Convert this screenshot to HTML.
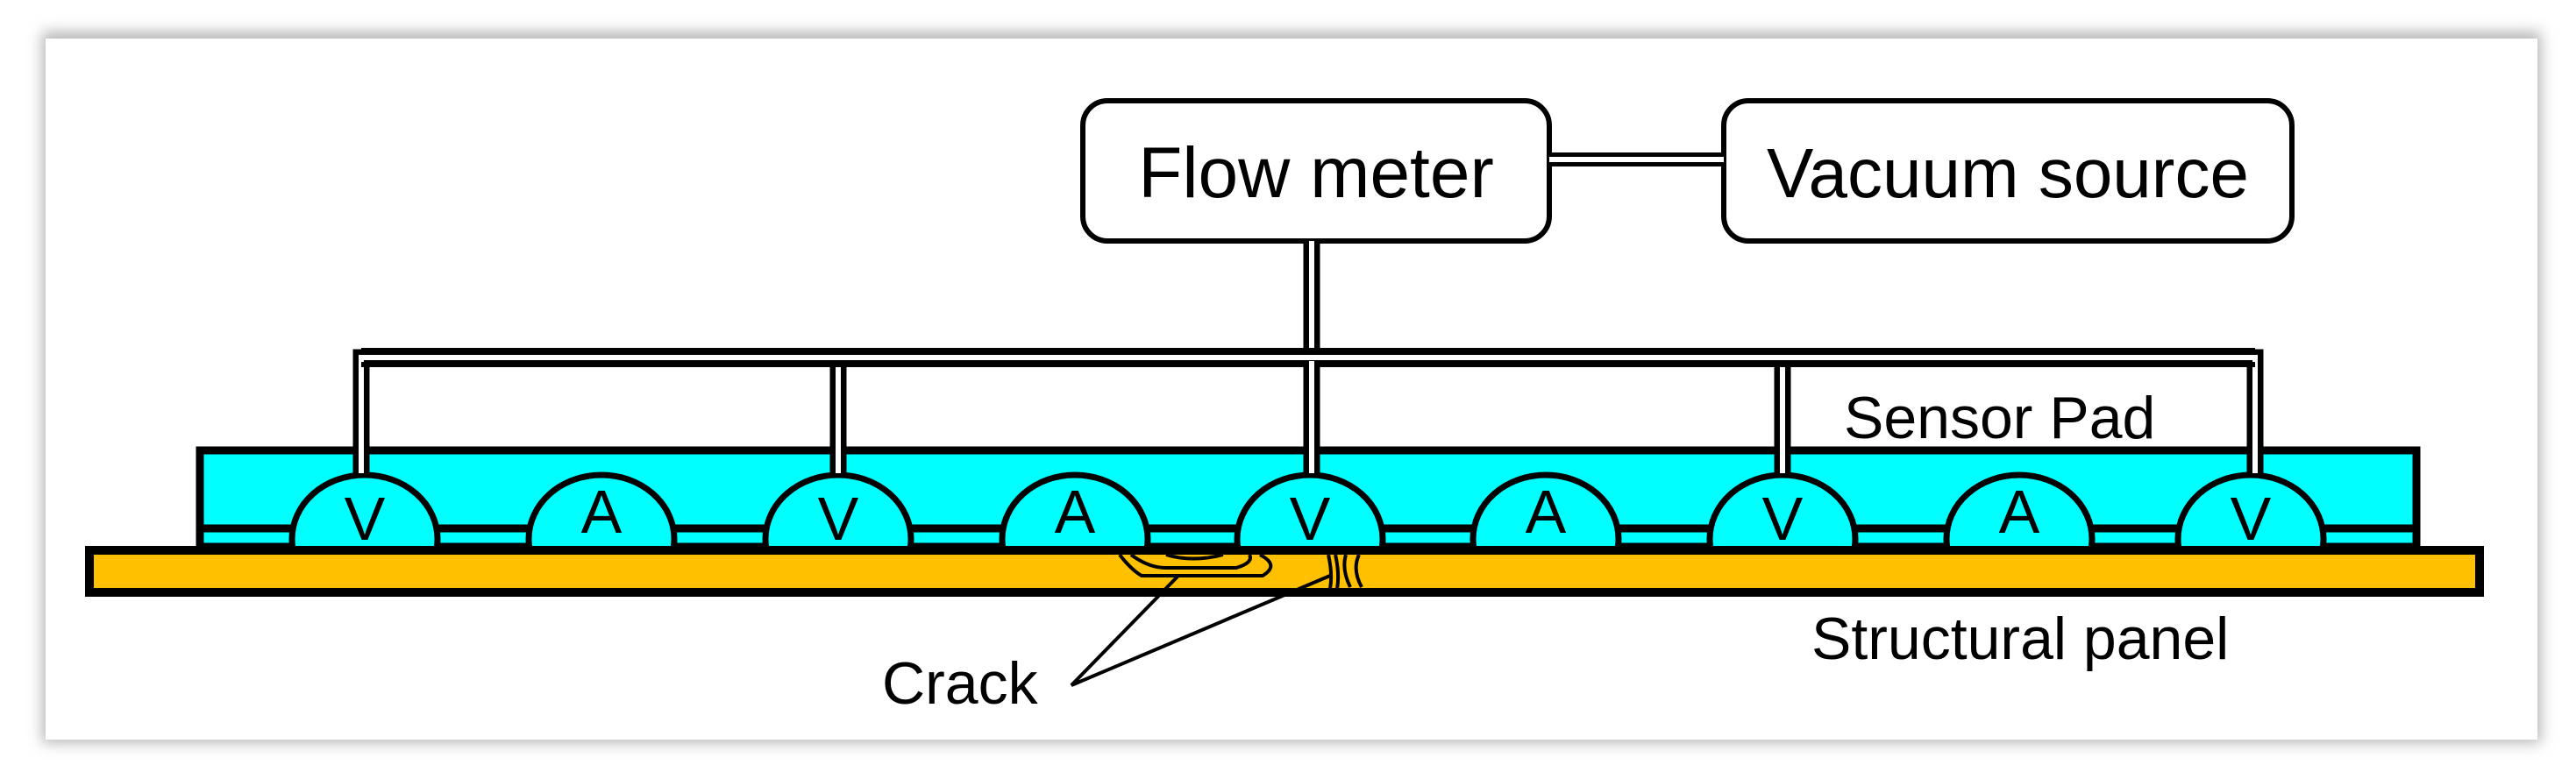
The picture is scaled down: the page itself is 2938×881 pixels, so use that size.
<!DOCTYPE html>
<html><head><meta charset="utf-8"><style>
html,body{margin:0;padding:0;background:#fff;}
svg{display:block;}
text{font-family:"Liberation Sans",sans-serif;fill:#000;}
</style></head><body>
<svg width="2938" height="881" viewBox="0 0 2938 881" xmlns="http://www.w3.org/2000/svg">
<defs>
<filter id="sh" x="-5%" y="-10%" width="110%" height="120%"><feGaussianBlur stdDeviation="8"/></filter>
<clipPath id="padclip"><rect x="228" y="514" width="2528" height="110"/></clipPath>
</defs>
<rect x="0" y="0" width="2938" height="881" fill="#fff"/>
<rect x="48" y="36" width="2850" height="812" fill="#b8b8b8" filter="url(#sh)"/>
<rect x="52" y="44" width="2842" height="800" fill="#fff"/>

<!-- boxes -->
<rect x="1235" y="115" width="532" height="160" rx="28" fill="#fff" stroke="#000" stroke-width="6"/>
<rect x="1966" y="115" width="648" height="160" rx="28" fill="#fff" stroke="#000" stroke-width="6"/>
<text x="1501" y="225" font-size="82" text-anchor="middle">Flow meter</text>
<text x="2290" y="225" font-size="80" text-anchor="middle">Vacuum source</text>

<!-- pipe between boxes -->
<line x1="1767" y1="182" x2="1966" y2="182" stroke="#000" stroke-width="16"/>
<line x1="1767" y1="182" x2="1966" y2="182" stroke="#fff" stroke-width="6"/>

<!-- sensor pad -->
<rect x="228" y="514" width="2528" height="110" fill="#00ffff" stroke="#000" stroke-width="9"/>
<!-- inner horizontal line -->
<line x1="232" y1="603" x2="2752" y2="603" stroke="#000" stroke-width="9"/>

<!-- domes -->
<g clip-path="url(#padclip)" stroke="#000" stroke-width="7" fill="#00ffff">
<ellipse cx="416" cy="615" rx="83" ry="73"/>
<ellipse cx="686" cy="615" rx="83" ry="73"/>
<ellipse cx="956" cy="615" rx="83" ry="73"/>
<ellipse cx="1226" cy="615" rx="83" ry="73"/>
<ellipse cx="1494" cy="615" rx="83" ry="73"/>
<ellipse cx="1763" cy="615" rx="83" ry="73"/>
<ellipse cx="2033" cy="615" rx="83" ry="73"/>
<ellipse cx="2303" cy="615" rx="83" ry="73"/>
<ellipse cx="2567" cy="615" rx="83" ry="73"/>
</g>

<!-- pipes (black then white) -->
<g fill="none" stroke="#000" stroke-width="19" stroke-linejoin="miter">
<path d="M1496 275 V410"/>
<path d="M412 542 V408 H2572 V542"/>
<path d="M956 408 V542 M1496 408 V542 M2033 408 V542"/>
</g>
<g fill="none" stroke="#fff" stroke-width="6" stroke-linejoin="miter">
<path d="M1496 275 V402"/>
<path d="M412 540 V408 H2572 V540"/>
<path d="M956 416 V540 M1496 414 V540 M2033 416 V540"/>
</g>
<line x1="412" y1="416" x2="2572" y2="416" stroke="#000" stroke-width="6"/>
<line x1="412" y1="400" x2="2572" y2="400" stroke="#000" stroke-width="6"/>
<line x1="1496" y1="412" x2="1496" y2="420" stroke="#fff" stroke-width="6"/>

<!-- structural panel -->
<rect x="102" y="628" width="2726" height="48" fill="#ffc000" stroke="#000" stroke-width="10"/>

<g font-size="70" text-anchor="middle">
<text x="416" y="616">V</text><text x="686" y="608">A</text><text x="956" y="616">V</text>
<text x="1226" y="608">A</text><text x="1494" y="616">V</text><text x="1763" y="608">A</text>
<text x="2033" y="616">V</text><text x="2303" y="608">A</text><text x="2567" y="616">V</text>
</g>

<!-- crack shapes -->
<g fill="none" stroke="#000" stroke-width="4">
<path d="M1277 633 Q1290 650 1302 657 L1440 657 Q1460 645 1437 633"/>
<path d="M1290 633 Q1310 648 1330 648 L1410 648 Q1430 642 1425 633"/>
<path d="M1330 633 Q1360 642 1395 633"/>
<path d="M1515 633 Q1520 655 1517 672 M1523 633 Q1528 655 1525 672 M1535 633 Q1530 650 1540 670 M1550 633 Q1542 650 1553 670"/>
</g>
<g fill="none" stroke="#000" stroke-width="4">
<path d="M1343 658 L1222 782 L1517 657"/>
</g>

<text x="2103" y="500" font-size="68">Sensor Pad</text>
<text x="2066" y="752" font-size="68">Structural panel</text>
<text x="1006" y="803" font-size="68">Crack</text>
</svg>
</body></html>
